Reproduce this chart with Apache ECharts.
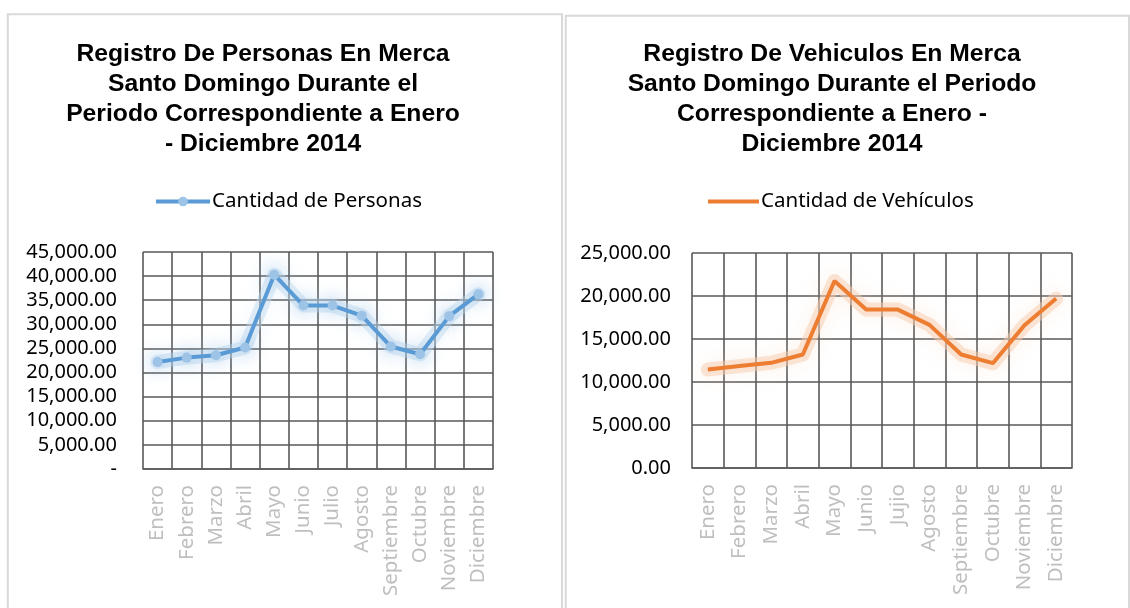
<!DOCTYPE html>
<html>
<head>
<meta charset="utf-8">
<script src="https://cdn.jsdelivr.net/npm/echarts@6/dist/echarts.min.js"></script>
<style>
  html, body { margin: 0; padding: 0; background: #fff; }
  #chart { width: 1130px; height: 608px; }
</style>
</head>
<body>
<div id="chart"></div>
<script>
// data
const mesesPersonas = ['Enero', 'Febrero', 'Marzo', 'Abril', 'Mayo', 'Junio', 'Julio', 'Agosto', 'Septiembre', 'Octubre', 'Noviembre', 'Diciembre']
const mesesVehiculos = ['Enero', 'Febrero', 'Marzo', 'Abril', 'Mayo', 'Junio', 'Jujio', 'Agosto', 'Septiembre', 'Octubre', 'Noviembre', 'Diciembre']
const personas = [22200, 23100, 23600, 25200, 40300, 33900, 33900, 31800, 25400, 23800, 31700, 36250]
const vehiculos = [11450, 11850, 12230, 13200, 21750, 18420, 18420, 16640, 13200, 12190, 16600, 19700]

const tituloPersonas = 'Registro De Personas En Merca\nSanto Domingo Durante el\nPeriodo Correspondiente a Enero\n- Diciembre 2014'
const tituloVehiculos = 'Registro De Vehiculos En Merca\nSanto Domingo Durante el Periodo\nCorrespondiente a Enero -\nDiciembre 2014'

const bodyFont = '"Noto Sans", "Open Sans", sans-serif'
const gridColor = '#595959'

const fmt = (v) => v.toLocaleString('en-US', { minimumFractionDigits: 2, maximumFractionDigits: 2 })

const titleStyle = {
  fontFamily: '"Liberation Sans", Arial, sans-serif',
  fontWeight: 'bold',
  fontSize: 24.7,
  lineHeight: 30,
  color: '#000'
}

function xAxisFor(idx, data) {
  return {
    type: 'category',
    gridIndex: idx,
    data: data,
    boundaryGap: true,
    axisTick: { show: false },
    axisLine: { show: true, lineStyle: { color: gridColor, width: 1.6 } },
    splitLine: { show: true, lineStyle: { color: gridColor, width: 1.6 } },
    axisLabel: {
      rotate: 90,
      margin: 16,
      color: '#bfbfbf',
      fontFamily: bodyFont,
      fontSize: 20.5,
      interval: 0
    }
  }
}

function yAxisFor(idx, max, margin, formatter) {
  return {
    type: 'value',
    gridIndex: idx,
    min: 0,
    max: max,
    interval: 5000,
    axisLine: { show: false },
    axisTick: { show: false },
    splitLine: { show: true, lineStyle: { color: gridColor, width: 1.6 } },
    axisLabel: {
      margin: margin,
      color: '#000',
      fontFamily: bodyFont,
      fontSize: 20,
      formatter: formatter
    }
  }
}

// soft wide line underneath the real one, imitating the spreadsheet glow
function glowFor(idx, data, color) {
  return {
    name: 'glow' + idx,
    type: 'line',
    xAxisIndex: idx,
    yAxisIndex: idx,
    data: data,
    symbol: 'none',
    silent: true,
    z: 1,
    lineStyle: { color: color, width: 14, shadowBlur: 20, shadowColor: color, cap: 'round', join: 'round' }
  }
}

const chart = echarts.init(document.getElementById('chart'), null, { renderer: 'canvas' })

chart.setOption({
  animation: false,
  title: [
    { text: tituloPersonas, left: 263, top: 39, padding: 0, textAlign: 'center', textStyle: titleStyle },
    { text: tituloVehiculos, left: 832, top: 39, padding: 0, textAlign: 'center', textStyle: titleStyle }
  ],
  legend: [
    {
      data: ['Cantidad de Personas'],
      left: 154, top: 191, padding: 0,
      itemWidth: 54, itemHeight: 12, itemGap: 0,
      lineStyle: { width: 4 },
      textStyle: { fontFamily: bodyFont, fontSize: 20.5, color: '#000', padding: [0, 0, 0, -3] }
    },
    {
      data: [{ name: 'Cantidad de Vehículos', icon: 'rect' }],
      left: 708, top: 191, padding: 0,
      itemWidth: 51, itemHeight: 4, itemGap: 0,
      textStyle: { fontFamily: bodyFont, fontSize: 20.5, color: '#000', padding: [0, 0, 0, -3] }
    }
  ],
  grid: [
    { left: 143, top: 252, width: 350, height: 217 },
    { left: 692, top: 253, width: 380, height: 215 }
  ],
  xAxis: [xAxisFor(0, mesesPersonas), xAxisFor(1, mesesVehiculos)],
  yAxis: [
    yAxisFor(0, 45000, 26, (v) => v === 0 ? '-' : fmt(v)),
    yAxisFor(1, 25000, 21, (v) => fmt(v))
  ],
  series: [
    glowFor(0, personas, 'rgba(189,215,238,0.45)'),
    glowFor(1, vehiculos, 'rgba(248,203,173,0.5)'),
    {
      name: 'Cantidad de Personas',
      type: 'line',
      xAxisIndex: 0,
      yAxisIndex: 0,
      data: personas,
      z: 3,
      symbol: 'circle',
      symbolSize: 10,
      itemStyle: {
        color: '#9dc3e6',
        borderWidth: 0,
        shadowBlur: 18,
        shadowColor: '#5b9bd5'
      },
      lineStyle: { color: '#5b9bd5', width: 4 }
    },
    {
      name: 'Cantidad de Vehículos',
      type: 'line',
      xAxisIndex: 1,
      yAxisIndex: 1,
      data: vehiculos,
      z: 3,
      symbol: 'none',
      itemStyle: { color: '#ed7d31' },
      lineStyle: { color: '#ed7d31', width: 4 }
    }
  ],
  graphic: [
    {
      type: 'rect',
      shape: { x: 7.8, y: 14.3, width: 554.2, height: 700 },
      style: { fill: 'none', stroke: '#d9d9d9', lineWidth: 2 },
      silent: true
    },
    {
      type: 'rect',
      shape: { x: 565.7, y: 15.7, width: 563.3, height: 700 },
      style: { fill: 'none', stroke: '#d9d9d9', lineWidth: 2 },
      silent: true
    }
  ]
})

window.addEventListener('resize', () => chart.resize())
</script>
</body>
</html>
